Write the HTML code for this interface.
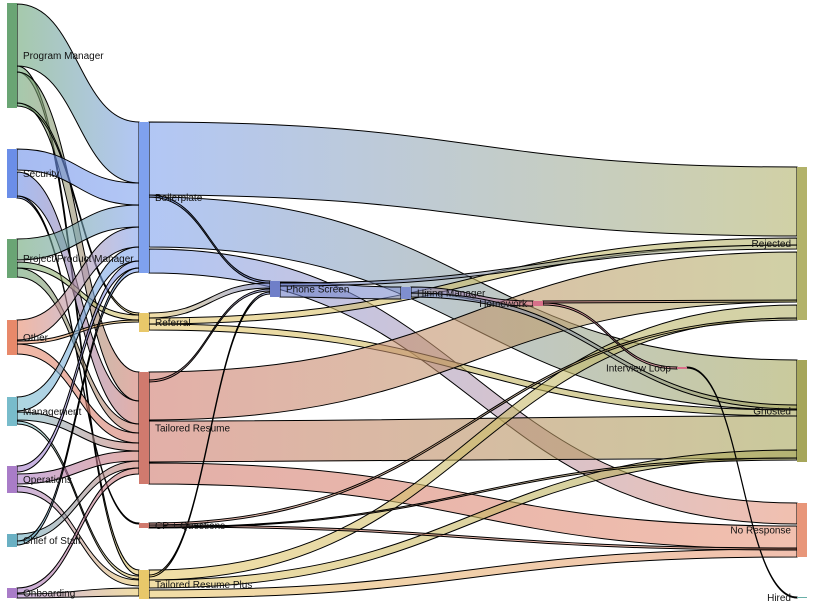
<!DOCTYPE html><html><head><meta charset="utf-8"><style>
html,body{margin:0;padding:0;background:#fff;width:816px;height:609px;overflow:hidden}
svg{display:block;font-family:"Liberation Sans",sans-serif;font-size:10px}
</style></head><body>
<svg id="s" width="816" height="609" xmlns="http://www.w3.org/2000/svg"><defs id="d"></defs><g id="L"></g><g id="N"></g><g id="T"></g></svg>
<script>
var N={
PM:[7,3,108,'#6aa574','Program Manager'],
SE:[7,149,198,'#6b8ee8','Security'],
PP:[7,239,278,'#6aa574','Project/Product Manager'],
OT:[7,320,355,'#e8896a','Other'],
MG:[7,397,426,'#78bccb','Management'],
OP:[7,466,493,'#a97cc8','Operations'],
CS:[7,534,547,'#6ab0c3','Chief of Staff'],
ON:[7,588,598,'#a97cc8','Onboarding'],
BP:[139,122,273,'#7fa1ee','Boilerplate'],
RF:[139,313,332,'#e8c86a','Referral'],
TR:[139,372,484,'#d07a6e','Tailored Resume'],
CP:[139,523,528,'#d07a6e','CP + Questions'],
TP:[139,570,599,'#e8c86a','Tailored Resume Plus'],
PS:[270,281,297,'#6f7fc8','Phone Screen'],
HM:[401,287,299,'#7f8fcf','Hiring Manager'],
HW:[533,301,306,'#d8708a','Homework'],
IL:[677,367,369,'#d8708a','Interview Loop'],
RJ:[797,167,320,'#b2b26a','Rejected'],
GH:[797,360,462,'#a6a65a','Ghosted'],
NR:[797,503,557,'#e8967a','No Response'],
HI:[797,597,598,'#6ab0a8','Hired']};
var Lk=[
['PM',4,66,'BP',122,183],['PM',66,72,'TP',570,575],['PM',72,103,'TR',372,401],['PM',103,106,'RF',313,315],
['SE',149,170,'BP',183,205],['SE',172,196,'TR',401,424],['SE',196,198,'CP',523,524],
['PP',239,260,'BP',205,227],['PP',262,268,'RF',315,320],['PP',268,277,'TR',424,433],
['OT',320,340,'BP',227,247],['OT',341,344,'RF',320,322],['OT',344,354,'TR',433,443],
['MG',397,411,'BP',247,261],['MG',412,420,'TR',443,451],['MG',421,424,'TP',576,579],
['OP',466,472,'BP',261,268],['OP',474,484,'TR',451,461],['OP',486,492,'TP',580,586],
['CS',534,541,'TR',461,468],['CS',541,545,'BP',268,272],
['ON',588,593,'TR',468,474],['ON',594,598,'TP',588,596],
['BP',122,195,'RJ',167,236],['BP',197,247,'GH',360,410],['BP',249,273,'NR',503,524],['BP',195,197,'PS',281,283],
['RF',313,318,'PS',283,288],['RF',318,324,'RJ',238,245],['RF',324,330,'GH',410,416],
['TR',372,420,'RJ',252,302],['TR',421,462,'GH',416,458],['TR',463,484,'NR',526,549],['TR',380,382,'PS',289,291],
['TP',570,580,'RJ',305,318],['TP',580,588,'GH',450,458],['TP',590,598,'NR',549,557],['TP',575,577,'PS',292,294],
['PS',282,297,'HM',287,299],['PS',283,286,'RJ',245,249],
['HM',287,293,'HW',301,306],['HM',293,297,'GH',405,409],
['HW',301,303,'RJ',300,302],['HW',303,305,'IL',367,369],['IL',367,368,'HI',597,598],
['CP',523,525,'RJ',318,320],['CP',525,527,'NR',548,550],['CP',527,528,'GH',458,460]];
var d=document.getElementById('d'),L=document.getElementById('L'),G=document.getElementById('N'),T=document.getElementById('T'),ns='http://www.w3.org/2000/svg';
function el(t,a,p){var e=document.createElementNS(ns,t);for(var k in a)e.setAttribute(k,a[k]);p.appendChild(e);return e;}
Lk.forEach(function(l,i){var s=N[l[0]],t=N[l[3]];var x0=s[0]+10,x1=t[0],m=(x0+x1)/2;
var g=el('linearGradient',{id:'g'+i,gradientUnits:'userSpaceOnUse',x1:x0,x2:x1,y1:0,y2:0},d);
el('stop',{offset:0,'stop-color':s[3]},g);el('stop',{offset:1,'stop-color':t[3]},g);
var p='M'+x0+','+l[1]+'C'+m+','+l[1]+' '+m+','+l[4]+' '+x1+','+l[4]+'L'+x1+','+l[5]+'C'+m+','+l[5]+' '+m+','+l[2]+' '+x0+','+l[2]+'Z';
el('path',{d:p,fill:'url(#g'+i+')','fill-opacity':0.6,stroke:'#000','stroke-width':1},L);});
for(var k in N){var n=N[k];el('rect',{x:n[0],y:n[1],width:10,height:Math.max(1,n[2]-n[1]),fill:n[3]},G);
var right=n[0]>408;var tx=el('text',{x:right?n[0]-6:n[0]+16,y:(n[1]+n[2])/2+3.5,'text-anchor':right?'end':'start',fill:'#111'},T);tx.textContent=n[4];}
</script>
</body></html>
